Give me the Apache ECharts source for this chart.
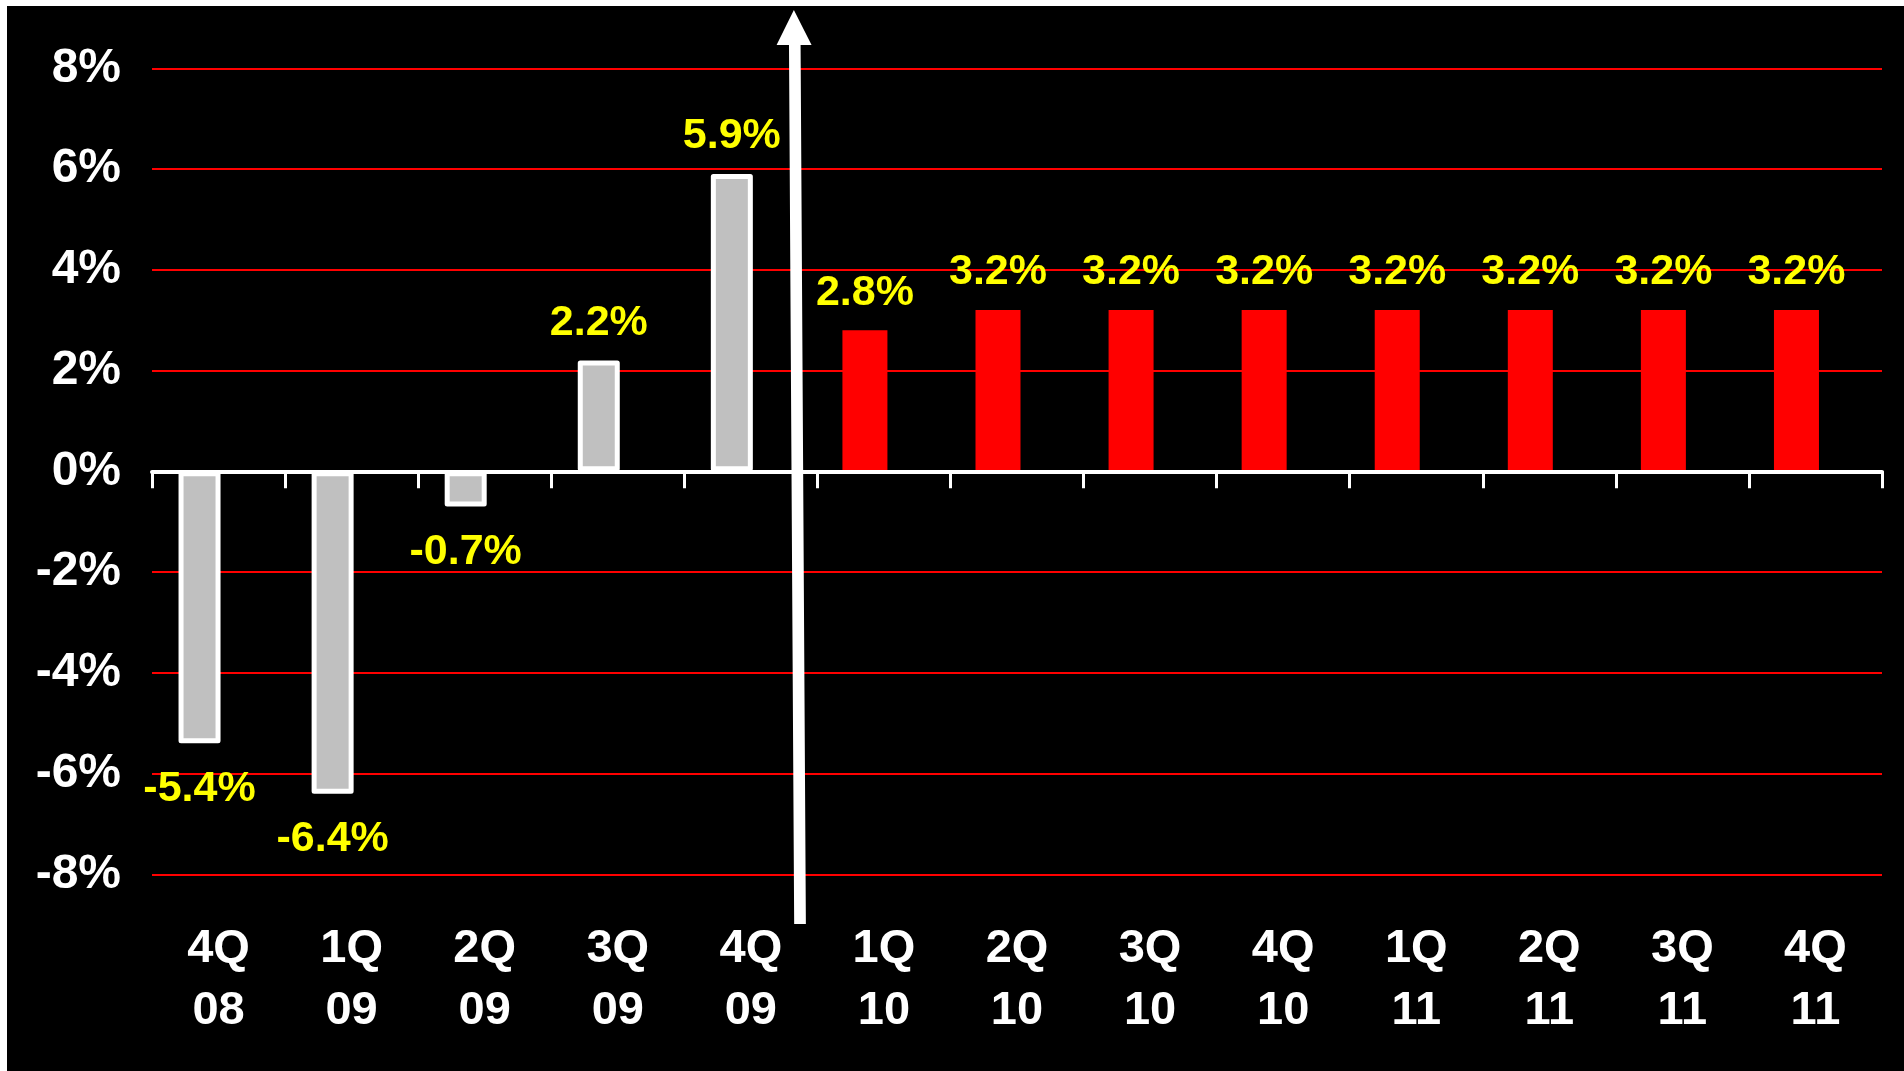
<!DOCTYPE html>
<html>
<head>
<meta charset="utf-8">
<script src="https://cdn.jsdelivr.net/npm/echarts@6/dist/echarts.min.js"></script>
<style>
  html, body { margin: 0; padding: 0; background: #ffffff; width: 1904px; height: 1071px; overflow: hidden; }
  #chart { position: absolute; left: 7px; top: 6px; width: 1897px; height: 1065px; background: #000000; }
</style>
</head>
<body>
<div id="chart"></div>
<script>
// Quarterly growth, actuals through 4Q 09, forecast afterwards
const quarters = ['4Q\n08', '1Q\n09', '2Q\n09', '3Q\n09', '4Q\n09', '1Q\n10', '2Q\n10', '3Q\n10', '4Q\n10', '1Q\n11', '2Q\n11', '3Q\n11', '4Q\n11'];
const growth = [-5.4, -6.4, -0.7, 2.2, 5.9, 2.8, 3.2, 3.2, 3.2, 3.2, 3.2, 3.2, 3.2];
const forecastStart = 5;
const yMin = -8;
const yMax = 8;
const yStep = 2;

const FONT = '"Liberation Sans", Arial, Helvetica, sans-serif';

const valueLabel = {
  show: true,
  color: '#FFFF00',
  fontFamily: FONT,
  fontWeight: 'bold',
  fontSize: 43,
  formatter: p => p.value.toFixed(1) + '%'
};

function pick(inRange) {
  return growth.map((v, i) => inRange(i)
    ? { value: v, label: v < 0 ? { position: 'bottom', distance: 24 } : { position: 'top', distance: 16 } }
    : '-');
}
const empty = quarters.map(() => '-');

const chart = echarts.init(document.getElementById('chart'), null, { renderer: 'canvas' });

chart.setOption({
  backgroundColor: '#000000',
  animation: false,
  grid: { left: 145, right: 22, top: 62.3, bottom: 196.7, outerBoundsMode: 'none' },
  xAxis: [
    { // zero line with boundary ticks
      type: 'category', gridIndex: 0, data: quarters, z: 3,
      axisLine: { show: true, onZero: true, lineStyle: { color: '#FFFFFF', width: 4 } },
      axisTick: { show: true, length: 17, lineStyle: { color: '#FFFFFF', width: 3 } },
      axisLabel: { show: false },
      splitLine: { show: false }
    },
    { type: 'category', gridIndex: 0, data: quarters, show: false },
    { type: 'category', gridIndex: 0, data: quarters, show: false },
    { // quarter labels along the bottom
      type: 'category', gridIndex: 0, data: quarters, position: 'bottom',
      axisLine: { show: false, onZero: false },
      axisTick: { show: false },
      splitLine: { show: false },
      axisLabel: {
        interval: 0, margin: 44, color: '#FFFFFF', fontFamily: FONT,
        fontWeight: 'bold', fontSize: 47, lineHeight: 62
      }
    }
  ],
  yAxis: {
    type: 'value', min: yMin, max: yMax, interval: yStep,
    axisLine: { show: false },
    axisTick: { show: false },
    splitLine: { show: true, lineStyle: { color: '#FF0000', width: 2 } },
    axisLabel: {
      formatter: '{value}%', margin: 31, color: '#FFFFFF',
      fontFamily: FONT, fontWeight: 'bold', fontSize: 48, padding: [8, 0, 0, 0]
    }
  },
  series: [
    {
      name: 'Actual', type: 'bar', xAxisIndex: 1, barWidth: 42, barGap: '0%',
      data: pick(i => i < forecastStart),
      itemStyle: { color: '#C0C0C0', borderColor: '#FFFFFF', borderWidth: 5, borderJoin: 'round' },
      label: valueLabel
    },
    { name: 'spacer-a', type: 'bar', xAxisIndex: 1, barWidth: 38, barGap: '0%', data: empty, silent: true },
    {
      name: 'Forecast', type: 'bar', xAxisIndex: 2, barWidth: 45, barGap: '0%',
      data: pick(i => i >= forecastStart),
      itemStyle: { color: '#FF0000' },
      label: valueLabel
    },
    { name: 'spacer-b', type: 'bar', xAxisIndex: 2, barWidth: 38, barGap: '0%', data: empty, silent: true }
  ]
});

// Divider arrow between actual and forecast quarters
const xb = (chart.convertToPixel({ xAxisIndex: 0 }, forecastStart - 1) +
            chart.convertToPixel({ xAxisIndex: 0 }, forecastStart)) / 2;
const yTop = chart.convertToPixel({ yAxisIndex: 0 }, yMax);
const yBot = chart.convertToPixel({ yAxisIndex: 0 }, yMin);
const headY = yTop - 23.3;
const endY = yBot + 49.7;

chart.setOption({
  graphic: [{
    type: 'polygon', z: 100, silent: true,
    shape: {
      points: [
        [xb - 23.5, yTop - 58.3],
        [xb - 5.8, headY],
        [xb - 16.8, headY],
        [xb - 11.5, endY],
        [xb - 23.2, endY],
        [xb - 28.4, headY],
        [xb - 40.8, headY]
      ]
    },
    style: { fill: '#FFFFFF' }
  }]
});
</script>
</body>
</html>
